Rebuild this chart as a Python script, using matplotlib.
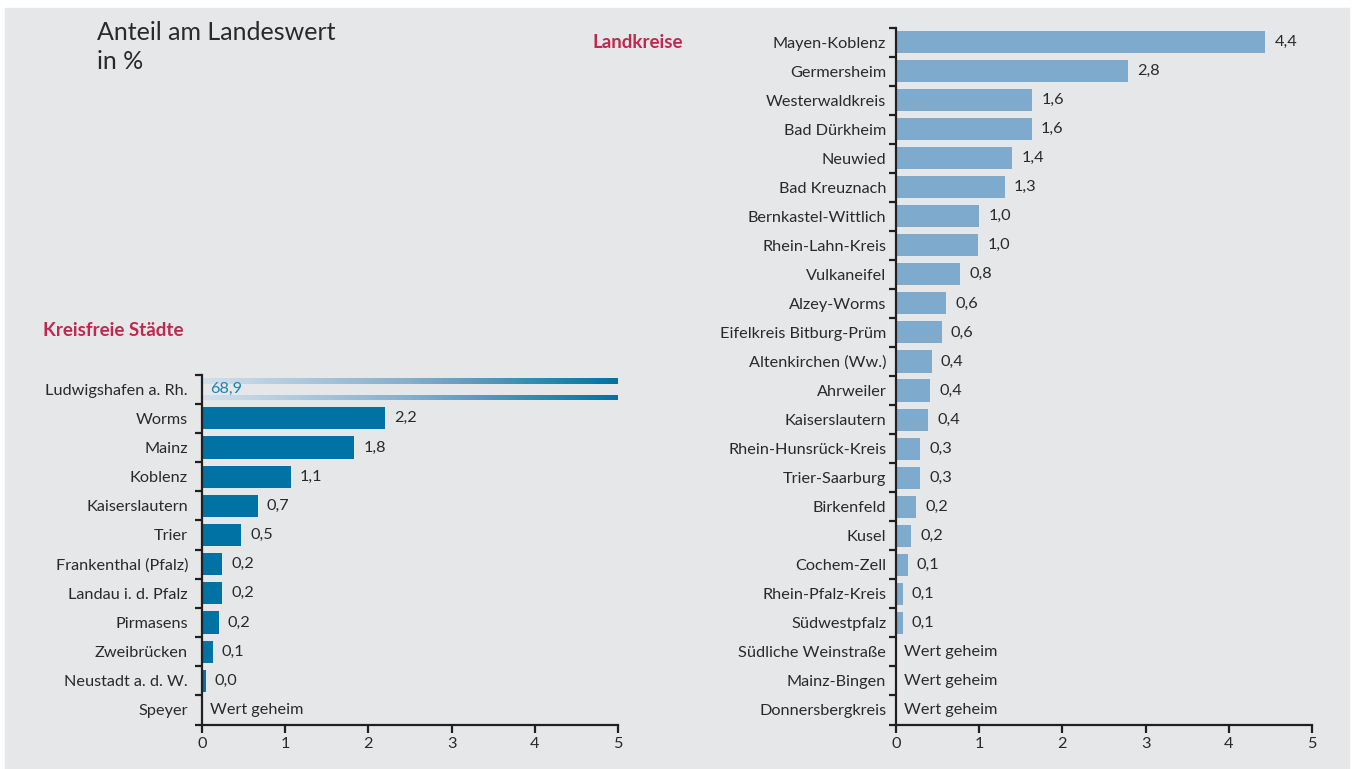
import numpy as np
import matplotlib.pyplot as plt
from matplotlib.colors import LinearSegmentedColormap

plt.rcParams['font.family'] = ['Lato', 'DejaVu Sans']

# Kreisfreie Städte
cities = ["Ludwigshafen a. Rh.", "Worms", "Mainz", "Koblenz", "Kaiserslautern",
          "Trier", "Frankenthal (Pfalz)", "Landau i. d. Pfalz", "Pirmasens",
          "Zweibrücken", "Neustadt a. d. W.", "Speyer"]
city_values = [68.9, 2.2, 1.83, 1.07, 0.67, 0.47, 0.24, 0.24, 0.2, 0.13, 0.045, None]

# Landkreise
districts = ["Mayen-Koblenz", "Germersheim", "Westerwaldkreis", "Bad Dürkheim",
             "Neuwied", "Bad Kreuznach", "Bernkastel-Wittlich", "Rhein-Lahn-Kreis",
             "Vulkaneifel", "Alzey-Worms", "Eifelkreis Bitburg-Prüm",
             "Altenkirchen (Ww.)", "Ahrweiler", "Kaiserslautern",
             "Rhein-Hunsrück-Kreis", "Trier-Saarburg", "Birkenfeld", "Kusel",
             "Cochem-Zell", "Rhein-Pfalz-Kreis", "Südwestpfalz",
             "Südliche Weinstraße", "Mainz-Bingen", "Donnersbergkreis"]
district_values = [4.44, 2.79, 1.64, 1.63, 1.4, 1.31, 1.0, 0.99, 0.77, 0.6, 0.55,
                   0.43, 0.41, 0.39, 0.29, 0.29, 0.24, 0.18, 0.14, 0.08, 0.08,
                   None, None, None]

x_ticks = [0, 1, 2, 3, 4, 5]
secret_text = "Wert geheim"

BG = "#e6e7e9"
DARK = "#0072a3"
LIGHT = "#7eaacd"
RED = "#c0284f"
INK = "#2a2a2a"
W, H = 1354, 769
FS = 11.7

fig = plt.figure(figsize=(W / 100, H / 100), dpi=100)
fig.patch.set_facecolor("white")
fig.patches.append(plt.Rectangle((5 / W, 0), (W - 10) / W, 1 - 8 / H,
                                 transform=fig.transFigure, color=BG, zorder=-10))


def fmt(v):
    return f"{v:.1f}".replace(".", ",")


def make_axes(left, right, top, bottom):
    return fig.add_axes([left / W, 1 - bottom / H, (right - left) / W, (bottom - top) / H])


def style(ax, labels, pad):
    n = len(labels)
    ax.set_facecolor("none")
    ax.set_xlim(0, 5)
    ax.set_ylim(n - 0.5, -0.5)
    for s in ("top", "right"):
        ax.spines[s].set_visible(False)
    for s in ("left", "bottom"):
        ax.spines[s].set_linewidth(1.6)
        ax.spines[s].set_color("#231f20")
    ax.set_xticks(x_ticks)
    ax.set_xticklabels([str(t) for t in x_ticks], fontsize=FS, color=INK)
    ax.tick_params(axis="x", length=6, width=1.6, color="#231f20", pad=3)
    # ticks between rows, labels at row centres
    ax.set_yticks(np.arange(n + 1) - 0.5)
    ax.set_yticklabels([])
    ax.tick_params(axis="y", length=5, width=1.6, color="#231f20")
    ax.set_yticks(np.arange(n), minor=True)
    ax.set_yticklabels(labels, minor=True, fontsize=FS, color=INK)
    ax.tick_params(axis="y", which="minor", length=0, pad=pad)


def annotate(ax, i, v):
    if v is None:
        ax.text(0.1, i, secret_text, va="center", ha="left", fontsize=FS, color=INK)
    else:
        ax.text(v + 0.11, i, fmt(v), va="center", ha="left", fontsize=FS, color=INK)


# left panel
axl = make_axes(202, 618, 374.5, 724.5)
style(axl, cities, 10)
bar_h = 0.76
for i, v in enumerate(city_values):
    if v is None:
        annotate(axl, i, v)
        continue
    if v > 5:
        # broken bar: two thin gradient stripes with the value in the gap
        grad = LinearSegmentedColormap.from_list("g", ["#d2e0ec", "#86aecd", DARK])
        img = np.linspace(0, 1, 256).reshape(1, -1)
        for y0 in (i - 0.37, i + 0.19):
            bar = axl.barh(y0 + 0.09, v, height=0.18, color="none", lw=0)[0]
            im = axl.imshow(img, cmap=grad, extent=(0, 5, y0 + 0.18, y0),
                            aspect="auto", zorder=2)
            im.set_clip_path(bar)
        axl.text(0.1, i, fmt(v), va="center", ha="left", fontsize=FS, color="#1a84b8")
    else:
        axl.barh(i, v, height=bar_h, color=DARK, lw=0)
        annotate(axl, i, v)
axl.set_xlim(0, 5)
axl.set_ylim(len(cities) - 0.5, -0.5)

# right panel
axr = make_axes(896, 1312, 27.5, 724.5)
style(axr, districts, 7)
for i, v in enumerate(district_values):
    if v is not None:
        axr.barh(i, v, height=bar_h, color=LIGHT, lw=0)
    annotate(axr, i, v)

fig.text(97 / W, 1 - 21 / H, "Anteil am Landeswert\nin %", fontsize=18, color=INK,
         va="top", ha="left", linespacing=1.3)
fig.text(683 / W, 1 - 42 / H, "Landkreise", fontsize=13.5, fontweight="bold",
         color=RED, va="center", ha="right")
fig.text(43 / W, 1 - 331 / H, "Kreisfreie Städte", fontsize=13.5, fontweight="bold",
         color=RED, va="center", ha="left")

fig.savefig("out.png", dpi=100)
